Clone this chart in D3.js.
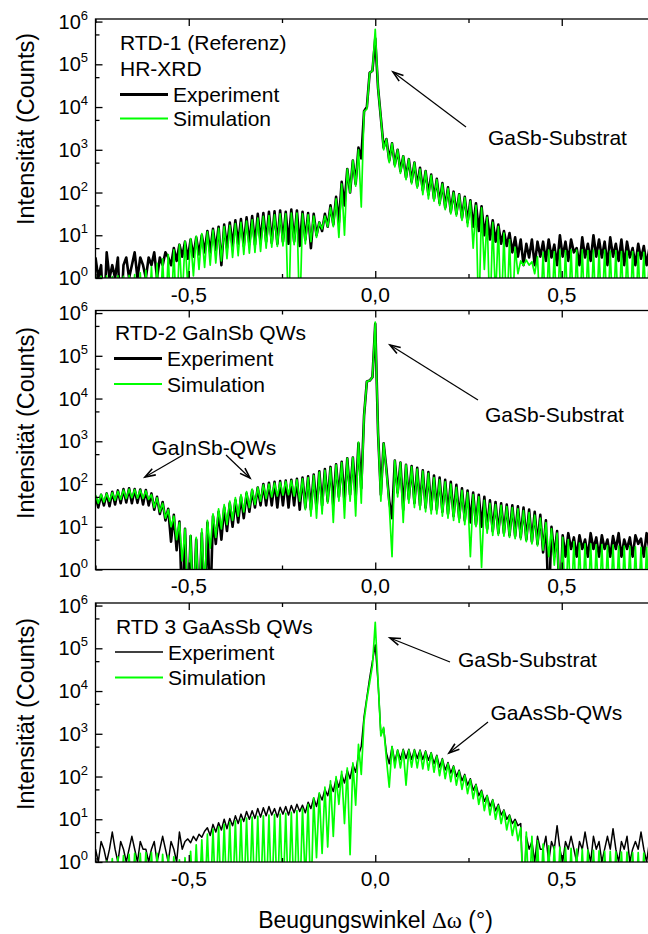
<!DOCTYPE html>
<html>
<head>
<meta charset="utf-8">
<script src="https://cdn.jsdelivr.net/npm/d3@7"></script>
<style>
  body { margin: 0; background: #fff; }
  text { font-family: "Liberation Sans", Arial, sans-serif; fill: #000; }
</style>
</head>
<body>
<svg id="chart" width="648" height="934"></svg>
<script>
// angle grid (deg), one value every 0.0075 from -0.75 to 0.75
const angleStart = -0.75;
const angleStep = 0.0075;

// log10(counts), 20 values per row = 0.15 deg per row
const rtd1ExpLog = [
  0.48,0,0.3,-1,0.6,0,0.3,0,0.48,-1,0.3,0.48,0,0.3,0.6,0,0.48,0.3,0,0.48,
  0.3,0.6,0,0.48,0.3,0.6,0.48,0.3,0.7,0.4,0.78,0.5,0.85,0.45,0.9,0.5,0.95,0.55,1.0,0.6,
  1.1,0.6,1.15,0.65,1.2,0.3,1.25,0.7,1.3,0.75,1.35,0.8,1.38,0.75,1.42,0.8,1.45,0.78,1.5,0.85,
  1.52,0.85,1.55,0.82,1.56,0.8,1.58,0.85,1.55,0.8,1.6,0.85,1.58,0.75,1.55,0.9,1.52,0.7,1.5,1.0,
  1.3,1.1,1.5,1.2,1.7,1.25,1.9,1.3,2.25,1.7,2.55,2.0,2.75,2.2,3.05,2.8,3.9,4.0,4.8,4.85,
  5.6,4.45,3.75,3.05,3.25,2.75,3.15,2.65,3.0,2.5,2.85,2.35,2.78,2.25,2.7,2.15,2.58,2.05,2.5,1.95,
  2.42,1.85,2.32,1.75,2.22,1.65,2.12,1.55,2.02,1.5,1.96,1.4,1.9,1.3,1.82,1.2,1.75,1.1,1.68,1.0,
  1.45,0.9,1.35,0.85,1.25,0.8,1.1,0.75,1.05,0.6,0.95,0.5,0.9,0.3,0.8,0.48,0.9,0.3,0.85,0.5,
  0.85,0.4,0.9,0.48,0.78,0.3,1.0,0.5,0.85,0.4,0.9,0.6,0.7,0.3,0.95,0.48,0.8,0.4,1.0,0.5,
  0.9,0.48,0.85,0.3,0.95,0.5,0.8,0.4,0.9,0.3,0.85,0.48,0.7,0.3,0.8,0.45,0.75,0.3,0.7,0.4,
  0.6
];
const rtd1SimLog = [
  0.05,-1,0.04,-1,0.05,-1,0.03,-1,0.05,-1,0.04,-1,0.06,-1,0.08,-1,0.12,-1,0.18,-1,
  0.26,-1,0.34,-1,0.45,-1,0.55,-1,0.66,-1,0.78,-0.5,0.86,-0.2,0.92,0.05,0.98,0.2,1.04,0.25,
  1.08,0.3,1.12,0.35,1.16,0.4,1.2,0.45,1.23,0.48,1.27,0.52,1.3,0.55,1.33,0.58,1.36,0.6,1.4,0.62,
  1.44,0.7,1.46,0.72,1.48,0.74,1.5,0.75,1.5,-1,1.52,0.78,1.52,-1,1.5,0.8,1.48,0.85,1.45,0.95,
  1.3,1.15,1.45,1.2,1.65,1.2,1.85,0.95,2.2,1.0,2.55,2.0,2.75,2.15,3.0,1.66,3.9,3.95,4.8,4.85,
  5.82,4.45,3.75,3.0,3.25,2.7,3.15,2.6,3.0,2.45,2.85,2.3,2.78,2.2,2.7,2.1,2.55,1.95,2.5,1.85,
  2.4,1.8,2.3,1.7,2.2,1.6,2.1,1.5,2.0,1.45,1.95,1.35,1.88,1.2,1.8,0.7,1.7,-1,1.64,0.2,
  1.42,-1,1.3,-0.5,1.2,-1,1.05,-1,0.9,-1,0.72,0.1,0.4,0.3,0.42,0.3,0.38,0.1,0.5,-1,
  0.6,-1,0.65,-1,0.62,-1,0.66,-1,0.64,-1,0.66,-1,0.65,-1,0.66,-1,0.64,-1,0.65,-1,
  0.64,-1,0.65,-1,0.63,-1,0.64,-1,0.62,-1,0.63,-1,0.62,-1,0.6,-1,0.6,-1,0.58,-1,
  0.55
];
const rtd2ExpLog = [
  1.72,1.45,1.75,1.5,1.78,1.48,1.82,1.52,1.85,1.55,1.88,1.57,1.9,1.55,1.88,1.56,1.87,1.52,1.86,1.5,
  1.78,1.4,1.7,1.3,1.58,1.15,1.42,0.65,1.28,0.45,1.12,-1,0.95,-1,0.78,-1,0.7,-1,0.85,-1,
  1.1,-1,1.25,0.6,1.35,0.7,1.45,0.9,1.55,1.0,1.62,1.1,1.7,1.2,1.78,1.35,1.85,1.45,1.92,1.5,
  2.0,1.5,2.03,1.5,2.05,1.45,2.07,1.5,2.08,1.45,2.1,1.5,2.12,1.4,2.15,1.45,2.18,1.4,2.22,1.45,
  2.3,1.5,2.35,1.6,2.4,1.5,2.46,1.7,2.52,1.6,2.6,1.75,2.62,1.7,2.95,1.9,3.6,4.4,4.42,4.5,
  5.75,3.2,1.75,2.95,2.35,1.6,1.2,2.55,1.8,2.5,1.4,2.45,1.65,2.42,1.55,2.38,1.5,2.32,1.45,2.28,
  1.4,2.2,1.4,2.15,1.35,2.1,1.3,2.05,1.25,1.98,1.2,1.9,1.15,1.85,1.1,1.8,1.05,1.75,1.0,1.7,
  0.95,1.62,0.9,1.58,0.85,1.55,0.85,1.52,0.8,1.5,0.78,1.48,0.75,1.45,0.7,1.4,0.65,1.35,0.6,1.28,
  0.4,1.15,-1,1.0,0.3,0.9,-1,0.8,0.3,0.85,0.48,0.75,0.3,0.8,0.48,0.7,0.3,0.85,0.48,0.75,
  0.3,0.8,0.48,0.7,0.3,0.78,0.48,0.85,0.3,0.7,0.48,0.75,0.3,0.8,0.6,0.72,0.3,0.85,0.48,0.75,
  0.6
];
const rtd2SimLog = [
  1.74,1.55,1.76,1.58,1.78,1.6,1.8,1.62,1.83,1.64,1.86,1.66,1.88,1.68,1.87,1.67,1.86,1.66,1.84,1.64,
  1.75,1.45,1.68,1.35,1.55,1.2,1.4,1.0,1.25,0.7,1.1,0.2,0.95,-1,0.8,-1,0.75,-1,0.95,-0.5,
  1.15,0.5,1.3,0.75,1.42,0.95,1.52,1.05,1.6,1.15,1.68,1.25,1.75,1.35,1.82,1.45,1.88,1.52,1.92,1.6,
  1.98,1.66,2.0,1.7,2.02,1.72,2.04,1.74,2.06,1.75,2.08,1.72,2.1,1.6,2.12,1.4,2.15,1.25,2.2,1.2,
  2.28,1.3,2.32,1.55,2.38,1.1,2.45,1.6,2.5,1.2,2.6,1.6,2.62,1.25,2.98,1.55,3.6,4.4,4.42,4.5,
  5.79,3.2,1.6,2.95,2.3,1.5,0.3,2.55,1.7,2.5,1.1,2.45,1.55,2.4,1.45,2.35,1.4,2.3,1.35,2.25,
  1.3,2.15,1.3,2.1,1.25,2.05,1.2,2.0,1.15,1.92,1.1,1.85,1.05,1.8,0.3,1.75,1.0,1.7,0.05,1.62,
  0.85,1.55,0.8,1.52,0.8,1.5,0.78,1.47,0.75,1.45,0.72,1.42,0.7,1.38,0.65,1.33,0.6,1.27,0.55,1.2,
  0.45,1.1,0.3,0.95,0.1,0.85,-1,0.75,-1,0.7,-1,0.65,-1,0.62,-1,0.6,-1,0.6,-1,0.58,
  -1,0.58,-1,0.56,-1,0.57,-1,0.55,-1,0.55,-1,0.54,-1,0.53,-1,0.52,-1,0.52,-1,0.5,
  -1
];
const rtd3ExpLog = [
  0.3,0,0.48,0.3,0,0.3,0.7,0.3,0,0.48,0.3,0,0.3,0.6,0.3,0,0.48,0.3,0.3,0,
  0.3,0.48,0,0.3,0.6,0.3,0,0.48,0.3,0,0.7,0.3,0.48,0.54,0.45,0.6,0.5,0.65,0.58,0.72,
  0.8,0.62,0.88,0.7,0.92,0.75,1.0,0.78,1.02,0.85,1.08,0.9,1.12,0.95,1.18,1.0,1.2,1.02,1.25,1.05,
  1.27,1.08,1.3,1.1,1.25,1.05,1.28,1.12,1.3,1.1,1.32,1.15,1.35,1.18,1.33,1.15,1.4,1.25,1.5,1.3,
  1.6,1.45,1.7,1.55,1.82,1.65,1.95,1.75,2.05,1.85,2.15,1.95,2.28,2.1,2.5,2.7,3.4,3.85,4.3,4.7,
  5.08,4.2,3.0,3.12,2.55,2.3,2.7,2.35,2.62,2.4,2.64,2.42,2.64,2.4,2.63,2.42,2.62,2.4,2.6,2.38,
  2.56,2.3,2.5,2.22,2.42,2.15,2.33,2.08,2.25,2.0,2.15,1.9,2.05,1.8,1.95,1.68,1.82,1.55,1.68,1.42,
  1.56,1.3,1.46,1.2,1.35,1.1,1.22,1.0,1.1,0.9,1.0,0.85,0.9,-1,0.6,0.3,0.48,0,0.6,0.3,
  0.3,0.6,0,0.48,0.3,0.85,0.3,0,0.48,0.3,0.6,0.3,0,0.48,0.3,0.7,0.3,0,0.6,0.3,
  0.48,0,0.3,0.6,0.3,0.78,0.3,0,0.48,0.3,0.6,0,0.3,0.48,0.3,0.7,0.3,0,0.48,0.3,
  0.3
];
const rtd3SimLog = [
  -1,-1,-0.5,-1,0.02,-1,0.08,-1,0.12,-1,0.15,-1,0.18,-1,0.2,-1,0.2,-1,0.22,-1,
  0.22,-1,0.2,-1,0.18,-1,0.15,-1,0.12,-1,0.05,-1,0.1,-1,0.25,-1,0.4,-1,0.52,-1,
  0.65,-1,0.77,-1,0.82,-1,0.88,-1,0.92,-1,0.96,-1,1.0,-1,1.03,-1,1.05,-1,1.07,-1,
  1.08,-1,1.1,-1,1.11,-1,1.12,-1,1.14,-1,1.16,-1,1.2,-1,1.25,-0.5,1.35,-1,1.5,0.1,
  1.62,0.2,1.75,0.35,1.9,0.6,2.0,1.35,2.12,0.9,2.2,0.17,2.32,1.33,2.75,2.05,3.3,3.8,4.2,4.6,
  5.61,4.25,2.95,3.15,2.4,1.75,2.7,2.2,2.62,2.2,2.62,1.8,2.62,2.22,2.62,2.2,2.6,2.18,2.58,2.15,
  2.55,2.1,2.48,2.02,2.4,1.95,2.3,1.88,2.23,1.8,2.12,1.7,2.02,1.6,1.92,1.48,1.8,1.35,1.65,1.2,
  1.55,1.1,1.45,1.0,1.32,0.9,1.2,0.75,1.08,0.62,0.95,0.5,0.8,-1,0.7,-1,0.6,-1,0.5,-1,
  0.42,-1,0.38,-1,0.36,-1,0.35,-1,0.33,-1,0.32,-1,0.3,-1,0.3,-1,0.28,-1,0.27,-1,
  0.26,-1,0.25,-1,0.25,-1,0.24,-1,0.23,-1,0.23,-1,0.22,-1,0.22,-1,0.21,-1,0.2,-1,
  0.2
];

const xMajorTicks = [-0.5, 0, 0.5];
const xTickLabels = ['-0,5', '0,0', '0,5'];
const xMinorTicks = [-0.75, -0.25, 0.25, 0.75];
const yExponents = [0, 1, 2, 3, 4, 5, 6];
const yMinorTicks = [5, 50, 500, 5000, 50000, 500000];
const legendNames = ['Experiment', 'Simulation'];
const panelTitles = [['RTD-1 (Referenz)', 'HR-XRD'], ['RTD-2 GaInSb QWs'], ['RTD 3 GaAsSb QWs']];
const yTitle = 'Intensität (Counts)';

const svg = d3.select('#chart');
const left = 95.5, right = 655, panelH = 259;

const x = d3.scaleLinear().domain([-0.75, 0.75]).range([left, right]);
const angles = d3.range(rtd1SimLog.length).map(i => angleStart + i * angleStep);

const panels = [
  {top: 19, exp: rtd1ExpLog, sim: rtd1SimLog, expW: 2.6, titleY: [50, 76], legY: [94.5, 118.5], legX: 120, legTextX: 173, yTitleY: 129,
   notes: [{t: 'GaSb-Substrat', x: 488, y: 145, a: [466, 127, 393, 72]}]},
  {top: 310.5, exp: rtd2ExpLog, sim: rtd2SimLog, expW: 2.6, titleY: [340], legY: [358.5, 384], legX: 114, legTextX: 167, yTitleY: 423,
   notes: [{t: 'GaSb-Substrat', x: 485, y: 421.5, a: [478, 400, 390, 345]},
           {t: 'GaInSb-QWs', x: 151.5, y: 455, a: [183, 455, 145, 477]},
           {t: '', a: [226, 455, 250, 478]}]},
  {top: 603, exp: rtd3ExpLog, sim: rtd3SimLog, expW: 1.5, titleY: [633.5], legY: [652, 677.5], legX: 115, legTextX: 168, yTitleY: 714,
   notes: [{t: 'GaSb-Substrat', x: 458, y: 667, a: [450, 662, 390, 638]},
           {t: 'GaAsSb-QWs', x: 490.5, y: 720, a: [488, 722, 449, 753]}]}
];

function arrow(g, x1, y1, x2, y2) {
  g.append('line').attr('x1', x1).attr('y1', y1).attr('x2', x2).attr('y2', y2)
    .attr('stroke', '#000').attr('stroke-width', 1.2);
  const ang = Math.atan2(y1 - y2, x1 - x2), L = 11, s = 0.33;
  g.append('path')
    .attr('d', `M${x2 + L * Math.cos(ang + s)},${y2 + L * Math.sin(ang + s)}L${x2},${y2}L${x2 + L * Math.cos(ang - s)},${y2 + L * Math.sin(ang - s)}`)
    .attr('fill', 'none').attr('stroke', '#000').attr('stroke-width', 1.6);
}

panels.forEach((p, k) => {
  const top = p.top, bottom = top + panelH;
  const y = d3.scaleLog().domain([1, Math.pow(10, 6.06)]).range([bottom, top]);
  const g = svg.append('g');

  g.append('clipPath').attr('id', 'clip' + k).append('rect')
    .attr('x', left).attr('y', top).attr('width', right - left).attr('height', panelH);

  const line = d3.line().x(d => x(d[0])).y(d => y(Math.pow(10, d[1])));
  const plot = g.append('g').attr('clip-path', `url(#clip${k})`);
  plot.append('path').datum(angles.map((a, i) => [a, p.exp[i]]))
    .attr('d', line).attr('fill', 'none').attr('stroke', '#000')
    .attr('stroke-width', p.expW).attr('stroke-linejoin', 'round');
  plot.append('path').datum(angles.map((a, i) => [a, p.sim[i]]))
    .attr('d', line).attr('fill', 'none').attr('stroke', '#00ff00')
    .attr('stroke-width', 1.7).attr('stroke-linejoin', 'round');

  // ticks (all inward)
  const axes = [
    [d3.axisBottom(x).tickValues(xMajorTicks).tickSize(-7), bottom, 'x'],
    [d3.axisBottom(x).tickValues(xMinorTicks).tickSize(-4), bottom, 'x'],
    [d3.axisTop(x).tickValues(xMajorTicks).tickSize(-7), top, 'x'],
    [d3.axisTop(x).tickValues(xMinorTicks).tickSize(-4), top, 'x'],
    [d3.axisLeft(y).tickValues(yExponents.map(e => Math.pow(10, e))).tickSize(-7), left, 'y'],
    [d3.axisLeft(y).tickValues(yMinorTicks).tickSize(-4), left, 'y'],
    [d3.axisRight(y).tickValues(yExponents.map(e => Math.pow(10, e))).tickSize(-7), right, 'y'],
    [d3.axisRight(y).tickValues(yMinorTicks).tickSize(-4), right, 'y']
  ];
  axes.forEach(([ax, pos, dir]) => {
    const a = g.append('g')
      .attr('transform', dir === 'x' ? `translate(0,${pos})` : `translate(${pos},0)`)
      .call(ax.tickFormat(''));
    a.select('.domain').remove();
    a.selectAll('line').attr('stroke', '#000').attr('stroke-width', 1.3);
  });

  g.append('rect').attr('x', left).attr('y', top).attr('width', right - left).attr('height', panelH)
    .attr('fill', 'none').attr('stroke', '#000').attr('stroke-width', 1.3);

  // x tick labels
  g.selectAll('.xl').data(xMajorTicks).enter().append('text')
    .attr('x', d => x(d)).attr('y', bottom + 23.5)
    .attr('text-anchor', 'middle').attr('font-size', 21)
    .text((d, i) => xTickLabels[i]);

  // y tick labels 10^n
  yExponents.forEach(e => {
    const t = g.append('text').attr('x', 88).attr('y', y(Math.pow(10, e)) + 7)
      .attr('text-anchor', 'end').attr('font-size', 20);
    t.append('tspan').text('10');
    t.append('tspan').attr('font-size', 13).attr('dy', -9).text(e);
  });

  g.append('text').attr('transform', `translate(34,${p.yTitleY}) rotate(-90)`)
    .attr('text-anchor', 'middle').attr('font-size', 23.5).text(yTitle);

  // legend
  panelTitles[k].forEach((t, i) => {
    g.append('text').attr('x', p.legX + (k === 0 ? 0 : 1)).attr('y', p.titleY[i]).attr('font-size', 21).text(t);
  });
  legendNames.forEach((name, i) => {
    g.append('line').attr('x1', p.legX).attr('x2', p.legX + 48)
      .attr('y1', p.legY[i]).attr('y2', p.legY[i])
      .attr('stroke', i === 0 ? '#000' : '#00ff00')
      .attr('stroke-width', i === 0 ? (p.expW > 2 ? 3 : 1.6) : 1.8);
    g.append('text').attr('x', p.legTextX).attr('y', p.legY[i] + 7.5)
      .attr('font-size', 21).text(name);
  });

  // annotations
  p.notes.forEach(n => {
    if (n.t) g.append('text').attr('x', n.x).attr('y', n.y).attr('font-size', 21).text(n.t);
    arrow(g, ...n.a);
  });
});

// x axis title
const xt = svg.append('text').attr('x', 375.5).attr('y', 928)
  .attr('text-anchor', 'middle').attr('font-size', 23);
xt.append('tspan').text('Beugungswinkel ');
xt.append('tspan').style('font-family', '"Liberation Serif", "DejaVu Serif", serif').text('Δω');
xt.append('tspan').text(' (°)');
</script>
</body>
</html>
